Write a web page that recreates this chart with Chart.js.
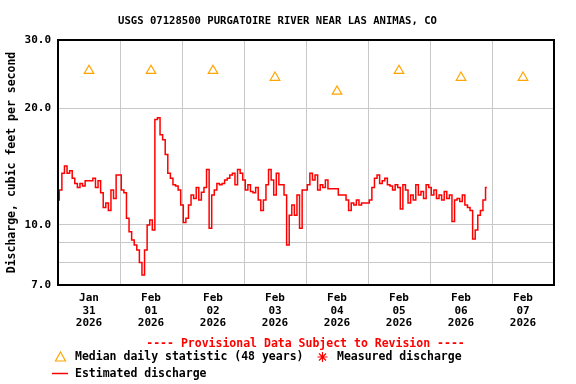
<!DOCTYPE html>
<html>
<head>
<meta charset="utf-8">
<script src="https://cdn.jsdelivr.net/npm/chart.js@4.4.1/dist/chart.umd.min.js"></script>
<style>
  html, body { margin: 0; padding: 0; background: #fff; }
</style>
</head>
<body>
<canvas id="chart" width="576" height="384"></canvas>
<script>
var FONT = "'DejaVu Sans Mono', 'Liberation Mono', monospace";

// x tick labels, one per day (centred at noon)
var dayLabels = [
  ["Jan", "31", "2026"], ["Feb", "01", "2026"], ["Feb", "02", "2026"],
  ["Feb", "03", "2026"], ["Feb", "04", "2026"], ["Feb", "05", "2026"],
  ["Feb", "06", "2026"], ["Feb", "07", "2026"]
];

// median daily statistic (48 years), cfs
var medianFlow = [25.0, 25.0, 25.0, 24.0, 22.1, 25.0, 24.0, 24.0];

// estimated discharge, hourly, cfs
var flowJan31 = [11.6, 12.3, 13.6, 14.2, 13.6, 13.8, 13.2, 12.8, 12.5, 12.8, 12.6, 13.0,
                 13.0, 13.0, 13.2, 12.5, 13.0, 12.1, 11.1, 11.4, 10.9, 12.3, 11.7, 13.45];
var flowFeb01 = [13.45, 12.3, 12.1, 10.4, 9.6, 9.14, 8.88, 8.62, 8.0, 7.43, 8.62, 10.0,
                 10.3, 9.7, 18.7, 18.9, 17.1, 16.6, 15.2, 13.6, 13.2, 12.7, 12.6, 12.3];
var flowFeb02 = [11.26, 10.15, 10.4, 11.26, 11.95, 11.7, 12.5, 11.6, 12.15, 12.5, 13.9, 9.8,
                 11.95, 12.3, 12.8, 12.7, 12.8, 13.06, 13.2, 13.45, 13.6, 12.7, 13.9, 13.6];
var flowFeb03 = [13.06, 12.3, 12.7, 12.2, 12.1, 12.5, 11.6, 10.9, 11.6, 12.7, 13.9, 13.06,
                 11.95, 13.6, 12.7, 12.7, 11.95, 8.88, 10.6, 11.26, 10.6, 11.95, 9.8, 12.3];
var flowFeb04 = [12.3, 12.7, 13.6, 13.06, 13.45, 12.3, 12.7, 12.5, 13.06, 12.4, 12.4, 12.4,
                 12.4, 11.95, 11.95, 11.95, 11.6, 10.9, 11.4, 11.26, 11.6, 11.26, 11.4, 11.4];
var flowFeb05 = [11.4, 11.6, 12.5, 13.2, 13.45, 12.8, 13.0, 13.2, 12.7, 12.6, 12.3, 12.7,
                 12.5, 11.0, 12.7, 12.3, 11.4, 11.95, 11.6, 12.7, 11.95, 12.2, 11.7, 12.7];
var flowFeb06 = [12.5, 11.95, 12.3, 11.7, 11.95, 11.6, 12.2, 11.7, 11.95, 10.2, 11.6, 11.7,
                 11.5, 11.95, 11.26, 11.1, 10.9, 9.2, 9.7, 10.6, 10.9, 11.6, 12.5];

var yTicks = [7, 8, 9, 10, 20, 30];
var yLabelled = [7, 10, 20, 30];

var flow = [].concat(flowJan31, flowFeb01, flowFeb02, flowFeb03, flowFeb04, flowFeb05, flowFeb06);
var flowPoints = flow.map(function (v, i) { return { x: i, y: v }; });
var medianPoints = medianFlow.map(function (v, i) { return { x: 12 + 24 * i, y: v }; });

var frame = {
  id: "frame",
  afterDraw: function (chart) {
    var ctx = chart.ctx, a = chart.chartArea;
    ctx.save();
    ctx.strokeStyle = "#000";
    ctx.lineWidth = 2;
    ctx.strokeRect(a.left, a.top, a.right - a.left, a.bottom - a.top);

    ctx.textBaseline = "middle";
    ctx.fillStyle = "#000";
    ctx.font = "bold 10.6px " + FONT;
    ctx.textAlign = "center";
    ctx.fillText("USGS 07128500 PURGATOIRE RIVER NEAR LAS ANIMAS, CO", 277.5, 21.5);

    ctx.font = "bold 11.5px " + FONT;
    ctx.fillStyle = "#ff0000";
    ctx.fillText("---- Provisional Data Subject to Revision ----", 305.5, 344);

    ctx.textAlign = "left";
    ctx.fillStyle = "#000";
    ctx.fillText("Median daily statistic (48 years)", 75, 357.5);
    ctx.fillText("Measured discharge", 337, 357.5);
    ctx.fillText("Estimated discharge", 75, 374);

    // triangle
    ctx.strokeStyle = "#ffa500";
    ctx.lineWidth = 1.2;
    ctx.beginPath();
    ctx.moveTo(60.5, 352);
    ctx.lineTo(65.5, 361);
    ctx.lineTo(55.5, 361);
    ctx.closePath();
    ctx.stroke();

    // asterisk
    ctx.strokeStyle = "#ff0000";
    ctx.beginPath();
    ctx.moveTo(322.5, 352); ctx.lineTo(322.5, 362);
    ctx.moveTo(317.5, 357); ctx.lineTo(327.5, 357);
    ctx.moveTo(319, 353.5); ctx.lineTo(326, 360.5);
    ctx.moveTo(326, 353.5); ctx.lineTo(319, 360.5);
    ctx.stroke();

    // line sample
    ctx.lineWidth = 1.5;
    ctx.beginPath();
    ctx.moveTo(52, 373.5); ctx.lineTo(68, 373.5);
    ctx.stroke();
    ctx.restore();
  }
};

new Chart(document.getElementById("chart").getContext("2d"), {
  type: "line",
  data: {
    datasets: [
      {
        label: "Estimated discharge",
        data: flowPoints,
        borderColor: "#ff0000",
        borderWidth: 1.5,
        pointRadius: 0,
        stepped: "middle",
        fill: false
      },
      {
        label: "Median daily statistic (48 years)",
        data: medianPoints,
        showLine: false,
        pointStyle: "triangle",
        pointRadius: 5.5,
        borderColor: "#ffa500",
        backgroundColor: "rgba(0,0,0,0)",
        pointBorderWidth: 1.2
      }
    ]
  },
  options: {
    responsive: false,
    animation: false,
    devicePixelRatio: 1,
    layout: { padding: { top: 40, right: 22, bottom: 54, left: 0 } },
    plugins: {
      legend: { display: false },
      tooltip: { enabled: false },
      title: { display: false }
    },
    scales: {
      x: {
        type: "linear",
        min: 0,
        max: 192,
        afterBuildTicks: function (s) {
          var t = [];
          for (var v = 0; v <= 192; v += 12) t.push({ value: v });
          s.ticks = t;
        },
        afterFit: function (s) { s.height = 45; },
        grid: {
          color: function (c) {
            return c.tick && c.tick.value % 24 === 0 ? "#c8c8c8" : "rgba(0,0,0,0)";
          },
          lineWidth: 1,
          drawTicks: false
        },
        border: { display: false },
        ticks: {
          autoSkip: false,
          maxRotation: 0,
          padding: 7,
          color: "#000",
          font: { family: FONT, size: 11, weight: "bold", lineHeight: 1.15 },
          callback: function (v) {
            return v % 24 === 12 ? dayLabels[(v - 12) / 24] : "";
          }
        }
      },
      y: {
        type: "logarithmic",
        min: 7,
        max: 30,
        afterBuildTicks: function (s) {
          s.ticks = yTicks.map(function (v) { return { value: v }; });
        },
        afterFit: function (s) { s.width = 58; },
        grid: { color: "#c8c8c8", lineWidth: 1, drawTicks: false },
        border: { display: false },
        ticks: {
          padding: 7,
          color: "#000",
          font: { family: FONT, size: 11, weight: "bold" },
          callback: function (v) {
            return yLabelled.indexOf(v) >= 0 ? v.toFixed(1) : "";
          }
        },
        title: {
          display: true,
          text: "Discharge, cubic feet per second",
          color: "#000",
          padding: { top: 5, bottom: 0 },
          font: { family: FONT, size: 11.5, weight: "bold" }
        }
      }
    }
  },
  plugins: [frame]
});
</script>
</body>
</html>
